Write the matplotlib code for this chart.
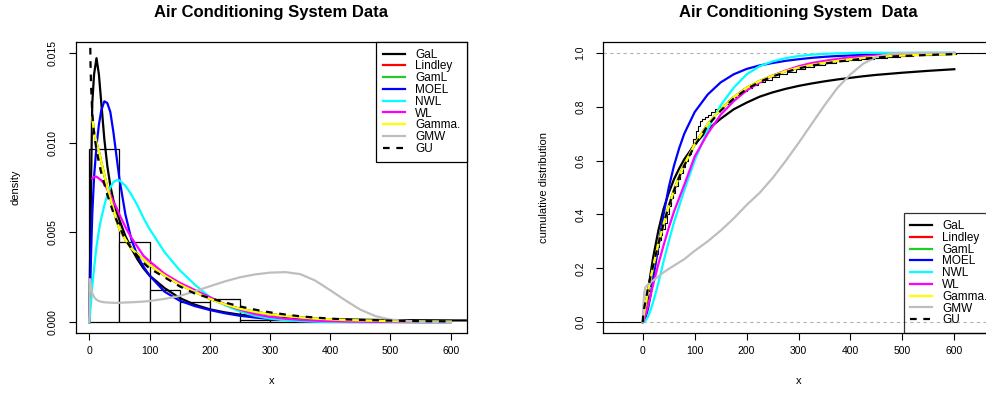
import numpy as np
import matplotlib
matplotlib.use("Agg")
import matplotlib.pyplot as plt

plt.rcParams['font.family'] = ['Liberation Sans', 'DejaVu Sans']

nan = np.nan

# ---------------- left panel: histogram + fitted densities ----------------
hist_edges = [0, 50, 100, 150, 200, 250, 300, 350, 400, 450, 500, 550, 600]
hist_dens = [0.00967, 0.00445, 0.00178, 0.00115, 0.00127, 0.00015,
             0.00012, 0.0001, 0.00008, 0.0001, 0.00008, 0.0001]

x_pdf = [0, 1, 2, 3, 5, 8, 12, 16, 20, 25, 30, 35, 40, 45, 50, 60, 70, 80, 90,
         100, 125, 150, 175, 200, 225, 250, 275, 300, 325, 350, 375, 400, 425,
         450, 475, 500, 550, 600, 625]

gal_pdf = [0, 0.0025, 0.005, 0.0078, 0.0122, 0.0138, 0.0147, 0.0138, 0.0122,
           0.0102, 0.0087, 0.0076, 0.0068, 0.0062, 0.0057, 0.0048, 0.0041,
           0.0035, 0.0030, 0.0026, 0.0019, 0.00135, 0.00098, 0.00072, 0.00055,
           0.00042, 0.00033, 0.00027, 0.00023, 0.0002, 0.00018, 0.00017,
           0.00015, 0.00014, 0.00013, 0.00012, 0.00011, 0.0001, 0.0001]
moel_pdf = [0, 0.0012, 0.0025, 0.0038, 0.006, 0.0081, 0.0098, 0.011, 0.0118,
            0.0123, 0.0122, 0.0117, 0.0106, 0.0093, 0.0080, 0.0060, 0.0046,
            0.0037, 0.0031, 0.0026, 0.0017, 0.0012, 0.0009, 0.00068, 0.0005,
            0.00036, 0.00026, 0.00018, 0.00013, 0.0001, 0.00007, 0.00005,
            0.00004, 0.00003, 0.00002, 0.00002, 0.00001, 0.00001, nan]
nwl_pdf = [0, 0.0003, 0.0007, 0.0011, 0.002, 0.003, 0.0042, 0.0051, 0.0058,
           0.0065, 0.0071, 0.0075, 0.0078, 0.0079, 0.0079, 0.0076, 0.0071,
           0.0065, 0.0058, 0.0052, 0.0039, 0.0029, 0.0021, 0.0014, 0.00095,
           0.0006, 0.00036, 0.0002, 0.00011, 0.00006, 0.00003, 0.00002,
           0.00001, 0, 0, 0, 0, 0, nan]
wl_pdf = [nan, nan, nan, nan, 0.0080, 0.0081, 0.0081, 0.0080, 0.0079, 0.0077,
          0.0074, 0.0071, 0.0067, 0.0064, 0.0060, 0.0053, 0.0047, 0.0042,
          0.0037, 0.0034, 0.0027, 0.0022, 0.0018, 0.0014, 0.001, 0.0007,
          0.00045, 0.0003, 0.0002, 0.00013, 0.00009, 0.00006, 0.00004,
          0.00003, 0.00002, 0.00002, 0.00001, 0.00001, nan]
gamma_pdf = [nan, nan, nan, nan, 0.0114, 0.0106, 0.0100, 0.0095, 0.0089,
             0.0082, 0.0075, 0.0069, 0.0063, 0.0057, 0.0052, 0.0046, 0.0041,
             0.0038, 0.0035, 0.0032, 0.0026, 0.0021, 0.0017, 0.0013, 0.001,
             0.00075, 0.00058, 0.00045, 0.00035, 0.00027, 0.0002, 0.00016,
             0.00012, 0.0001, 0.00008, 0.00006, 0.00004, 0.00003, nan]
lindley_pdf = gamma_pdf   # hidden under the Gamma curve
gaml_pdf = gamma_pdf      # hidden under the Gamma curve
gmw_pdf = [0, 0.0024, 0.0021, 0.0019, 0.0016, 0.0014, 0.00125, 0.00118,
           0.00114, 0.00111, 0.0011, 0.00109, 0.00108, 0.00108, 0.00108,
           0.0011, 0.00111, 0.00113, 0.00115, 0.00118, 0.0013, 0.00146,
           0.00172, 0.002, 0.00227, 0.0025, 0.00266, 0.00276, 0.00279,
           0.00268, 0.00232, 0.00178, 0.00122, 0.0007, 0.00034, 0.00014,
           0.00002, 0.0, nan]
gu_pdf = [nan, 0.0175, 0.0145, 0.0132, 0.0116, 0.0105, 0.0096, 0.0089,
          0.0083, 0.0077, 0.0071, 0.0066, 0.0061, 0.0057, 0.0053, 0.0046,
          0.0041, 0.0037, 0.0033, 0.0030, 0.0025, 0.0020, 0.0016, 0.00135,
          0.0011, 0.00088, 0.0007, 0.00055, 0.00043, 0.00033, 0.00026,
          0.0002, 0.00016, 0.00013, 0.00011, 0.00009, 0.00006, 0.00005, nan]

# ---------------- right panel: ecdf + fitted cdfs ----------------
x_cdf = [0, 1, 3, 5, 10, 15, 20, 30, 40, 50, 60, 70, 80, 100, 125, 150, 175,
         200, 225, 250, 275, 300, 325, 350, 375, 400, 425, 450, 475, 500,
         550, 600]

gal_cdf = [0, 0.002, 0.015, 0.04, 0.11, 0.18, 0.24, 0.34, 0.42, 0.48, 0.53,
           0.57, 0.605, 0.66, 0.715, 0.755, 0.79, 0.815, 0.837, 0.853, 0.866,
           0.877, 0.886, 0.894, 0.901, 0.907, 0.913, 0.918, 0.922, 0.926,
           0.933, 0.939]
moel_cdf = [0, 0.0006, 0.005, 0.015, 0.05, 0.10, 0.16, 0.28, 0.40, 0.50,
            0.58, 0.645, 0.70, 0.78, 0.845, 0.89, 0.92, 0.94, 0.953, 0.962,
            0.97, 0.976, 0.981, 0.985, 0.988, 0.99, 0.992, 0.994, 0.995,
            0.996, 0.998, 0.999]
nwl_cdf = [0, 0.0002, 0.002, 0.005, 0.02, 0.045, 0.075, 0.145, 0.225, 0.30,
           0.37, 0.43, 0.49, 0.60, 0.715, 0.805, 0.87, 0.92, 0.95, 0.968,
           0.98, 0.988, 0.993, 0.996, 0.998, 0.999, 1, 1, 1, 1, 1, 1]
wl_cdf = [0, 0.004, 0.013, 0.025, 0.06, 0.10, 0.14, 0.215, 0.285, 0.35,
          0.41, 0.46, 0.51, 0.615, 0.70, 0.77, 0.82, 0.86, 0.89, 0.915,
          0.934, 0.95, 0.962, 0.97, 0.977, 0.983, 0.987, 0.99, 0.993, 0.995,
          0.997, 0.998]
gamma_cdf = [0, 0.015, 0.04, 0.06, 0.115, 0.16, 0.205, 0.29, 0.365, 0.43,
             0.49, 0.54, 0.585, 0.66, 0.735, 0.79, 0.835, 0.87, 0.895, 0.915,
             0.932, 0.945, 0.955, 0.963, 0.97, 0.976, 0.981, 0.985, 0.988,
             0.99, 0.994, 0.996]
lindley_cdf = gamma_cdf
gaml_cdf = gamma_cdf
gmw_cdf = [0, 0.06, 0.11, 0.13, 0.14, 0.148, 0.155, 0.17, 0.185, 0.198, 0.21,
           0.222, 0.234, 0.265, 0.3, 0.34, 0.385, 0.435, 0.48, 0.535, 0.598,
           0.665, 0.735, 0.805, 0.87, 0.92, 0.96, 0.985, 0.996, 0.999, 1.0,
           1.0]
gu_cdf = [0, 0.03, 0.055, 0.075, 0.125, 0.17, 0.21, 0.29, 0.365, 0.43,
          0.488, 0.538, 0.582, 0.655, 0.73, 0.785, 0.83, 0.865, 0.892, 0.912,
          0.928, 0.942, 0.952, 0.96, 0.967, 0.973, 0.978, 0.982, 0.986,
          0.988, 0.992, 0.995]

# empirical cdf: jump positions and level after each jump
ecdf_x = [1, 3, 5, 7, 10, 12, 14, 16, 18, 20, 23, 26, 29, 32, 35, 38, 42, 46,
          50, 54, 58, 62, 67, 72, 77, 82, 87, 92, 97, 102, 106, 110, 114, 120,
          126, 132, 140, 148, 156, 164, 172, 180, 190, 200, 210, 222, 235,
          248, 262, 278, 295, 312, 330, 350, 372, 395, 420, 445, 470, 495,
          520, 560, 603]
ecdf_y = [0.02, 0.04, 0.06, 0.085, 0.115, 0.135, 0.15, 0.17, 0.185, 0.205,
          0.23, 0.255, 0.28, 0.305, 0.325, 0.345, 0.37, 0.40, 0.43, 0.46,
          0.48, 0.505, 0.53, 0.555, 0.575, 0.60, 0.625, 0.65, 0.68, 0.71,
          0.73, 0.745, 0.755, 0.76, 0.77, 0.78, 0.79, 0.80, 0.81, 0.825,
          0.835, 0.845, 0.86, 0.87, 0.88, 0.89, 0.90, 0.91, 0.92, 0.93, 0.94,
          0.948, 0.955, 0.962, 0.968, 0.974, 0.978, 0.982, 0.985, 0.988,
          0.991, 0.995, 1.0]

names = ["GaL", "Lindley", "GamL", "MOEL", "NWL", "WL", "Gamma.", "GMW", "GU"]
colors = ["black", "red", "#22CC22", "blue", "cyan", "magenta", "yellow",
          "#BEBEBE", "black"]
pdfs = [gal_pdf, lindley_pdf, gaml_pdf, moel_pdf, nwl_pdf, wl_pdf, gamma_pdf,
        gmw_pdf, gu_pdf]
cdfs = [gal_cdf, lindley_cdf, gaml_cdf, moel_cdf, nwl_cdf, wl_cdf, gamma_cdf,
        gmw_cdf, gu_cdf]

fig = plt.figure(figsize=(9.87, 3.96), dpi=100)
ax1 = fig.add_axes([76 / 987, 63 / 396, 391 / 987, 291 / 396])
ax2 = fig.add_axes([603.3 / 987, 63 / 396, 391 / 987, 291 / 396])

leg_kw = dict(borderaxespad=0, fontsize=8.5, fancybox=False,
              edgecolor='black', handlelength=1.85, handletextpad=0.85,
              borderpad=0.57, labelspacing=-0.02)

# left
ax1.bar(hist_edges[:-1], hist_dens, width=np.diff(hist_edges), align='edge',
        facecolor='white', edgecolor='black', linewidth=0.9)
for name, col, y in zip(names, colors, pdfs):
    ls = (0, (3, 3)) if name == "GU" else '-'
    ax1.plot(x_pdf, y, color=col, lw=1.6, ls=ls, label=name)
ax1.set_xlim(-22, 627)
ax1.set_ylim(-0.0006, 0.0156)
ax1.set_xticks(range(0, 601, 100))
ax1.set_yticks([0, 0.005, 0.010, 0.015])
ax1.set_yticklabels(["0.000", "0.005", "0.010", "0.015"], rotation=90,
                    va='center')
ax1.set_xlabel("x", fontsize=8)
ax1.set_ylabel("density", fontsize=8)
ax1.xaxis.set_label_coords(0.5, -0.148)
ax1.yaxis.set_label_coords(-0.143, 0.5)
ax1.set_title("Air Conditioning System Data", fontsize=12, fontweight='bold',
              y=1.0997, va='center', pad=0)
leg1 = ax1.legend(loc='upper right', framealpha=1, **leg_kw)
leg1.get_frame().set_linewidth(0.9)

# right
ax2.axhline(0, color='#B3B3B3', lw=0.8, ls=(0, (3, 3)), zorder=1)
ax2.axhline(1, color='#B3B3B3', lw=0.8, ls=(0, (3, 3)), zorder=1)
ax2.step([-76] + ecdf_x + [677], [0] + ecdf_y + [1], where='post',
         color='black', lw=0.8)
for name, col, y in zip(names, colors, cdfs):
    ls = (0, (3, 3)) if name == "GU" else '-'
    ax2.plot(x_cdf, y, color=col, lw=1.6, ls=ls, label=name)
ax2.set_xlim(-76, 677)
ax2.set_ylim(-0.04, 1.04)
ax2.set_xticks(range(0, 601, 100))
ax2.set_yticks([0, 0.2, 0.4, 0.6, 0.8, 1.0])
ax2.set_yticklabels(["0.0", "0.2", "0.4", "0.6", "0.8", "1.0"], rotation=90,
                    va='center')
ax2.set_xlabel("x", fontsize=8)
ax2.set_ylabel("cumulative distribution", fontsize=8)
ax2.xaxis.set_label_coords(0.5, -0.148)
ax2.yaxis.set_label_coords(-0.14, 0.5)
ax2.set_title("Air Conditioning System  Data", fontsize=12,
              fontweight='bold', y=1.0997, va='center', pad=0)
leg2 = ax2.legend(loc='lower right', facecolor='none', **leg_kw)
leg2.get_frame().set_linewidth(0.9)

for ax in (ax1, ax2):
    for s in ax.spines.values():
        s.set_linewidth(0.9)
    ax.tick_params(direction='out', length=5, width=0.8, labelsize=7.5)
    ax.tick_params(axis='x', pad=4)
    ax.tick_params(axis='y', pad=8)

fig.savefig("out.png", dpi=100)
